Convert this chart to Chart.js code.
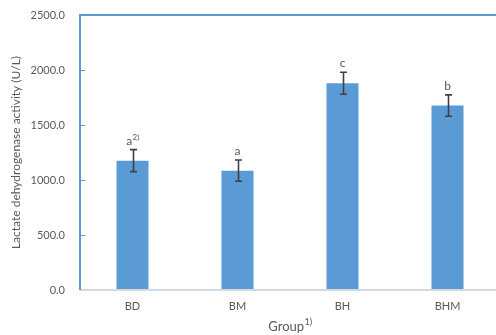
<!DOCTYPE html>
<html>
<head>
<meta charset="utf-8">
<script src="https://cdn.jsdelivr.net/npm/chart.js@4/dist/chart.umd.min.js"></script>
<style>
  html, body { margin: 0; padding: 0; background: #fff; overflow: hidden; }
  canvas { display: block; }
</style>
</head>
<body>
<canvas id="c" width="501" height="335"></canvas>
<script>
// LDH activity by group, mean ± error
const groups = ["BD", "BM", "BH", "BHM"];
const ldhMeans = [1176, 1085, 1880, 1677];
const ldhErrors = [100, 97, 100, 97];
const sigLetters = ["a", "a", "c", "b"];
const letterNotes = ["2)", "", "", ""];
const yTickStep = 500;
const yMax = 2500;

const AXIS_BLUE = "#5B9BD5";
const TEXT_GREY = "#595959";
const FONT = "Lato, 'Open Sans', sans-serif";

const frame = {
  id: "frame",
  afterDatasetsDraw(chart) {
    const { ctx, chartArea: a, scales: { x, y } } = chart;
    ctx.save();
    // error bars
    ctx.strokeStyle = "#404040";
    ctx.lineWidth = 1.6;
    ldhMeans.forEach((m, i) => {
      const cx = Math.round(x.getPixelForValue(i)) + 0.5;
      const yt = y.getPixelForValue(m + ldhErrors[i]);
      const yb = y.getPixelForValue(m - ldhErrors[i]);
      ctx.beginPath();
      ctx.moveTo(cx, yt); ctx.lineTo(cx, yb);
      ctx.moveTo(cx - 3.5, yt); ctx.lineTo(cx + 3.5, yt);
      ctx.moveTo(cx - 3.5, yb); ctx.lineTo(cx + 3.5, yb);
      ctx.stroke();
    });
    // significance letters
    ctx.fillStyle = TEXT_GREY;
    ctx.textBaseline = "alphabetic";
    ldhMeans.forEach((m, i) => {
      const cx = x.getPixelForValue(i);
      const yt = y.getPixelForValue(m + ldhErrors[i]) - 5;
      ctx.font = "12px " + FONT;
      const w = ctx.measureText(sigLetters[i]).width;
      let nw = 0;
      if (letterNotes[i]) {
        ctx.font = "8px " + FONT;
        nw = ctx.measureText(letterNotes[i]).width;
      }
      const x0 = cx - (w + nw) / 2;
      ctx.font = "12px " + FONT;
      ctx.textAlign = "left";
      ctx.fillText(sigLetters[i], x0, yt);
      if (letterNotes[i]) {
        ctx.font = "8px " + FONT;
        ctx.fillText(letterNotes[i], x0 + w + 0.5, yt - 5);
      }
    });
    // bottom axis line
    ctx.strokeStyle = "#D2D9E0";
    ctx.lineWidth = 2;
    ctx.beginPath();
    ctx.moveTo(a.left, a.bottom); ctx.lineTo(a.right, a.bottom);
    ctx.stroke();
    // left axis and top frame line
    ctx.strokeStyle = AXIS_BLUE;
    ctx.fillStyle = AXIS_BLUE;
    ctx.fillRect(a.left - 1, a.top - 1, 2, a.bottom - a.top + 1);
    ctx.fillRect(a.left - 1, a.top - 1, a.right - a.left + 1, 2);
    ctx.lineWidth = 1.2;
    ctx.beginPath();
    for (let v = yTickStep; v < yMax; v += yTickStep) {
      const py = Math.round(y.getPixelForValue(v)) + 0.5;
      ctx.moveTo(a.left, py); ctx.lineTo(a.left + 5, py);
    }
    ctx.stroke();
    // axis titles
    ctx.fillStyle = TEXT_GREY;
    ctx.font = "13px " + FONT;
    ctx.textAlign = "left";
    ctx.textBaseline = "middle";
    const gw = ctx.measureText("Group").width;
    ctx.font = "9px " + FONT;
    const sw = ctx.measureText("1)").width;
    const gx = (a.left + a.right) / 2 - (gw + sw) / 2;
    ctx.font = "13px " + FONT;
    ctx.fillText("Group", gx, 327);
    ctx.font = "9px " + FONT;
    ctx.fillText("1)", gx + gw + 0.5, 322);
    ctx.translate(16, (a.top + a.bottom) / 2);
    ctx.rotate(-Math.PI / 2);
    ctx.font = "12px " + FONT;
    ctx.textAlign = "center";
    ctx.fillText("Lactate dehydrogenase activity (U/L)", 0, 0);
    ctx.restore();
  }
};

new Chart(document.getElementById("c"), {
  type: "bar",
  data: {
    labels: groups,
    datasets: [{
      data: ldhMeans,
      backgroundColor: "#5B9BD5",
      borderWidth: 0,
      categoryPercentage: 1,
      barPercentage: 0.305
    }]
  },
  options: {
    responsive: false,
    animation: false,
    layout: { padding: { top: 15, right: 1, left: 0, bottom: 0 } },
    plugins: { legend: { display: false }, tooltip: { enabled: false } },
    scales: {
      x: {
        grid: { display: false, drawTicks: false },
        border: { display: false },
        ticks: { color: TEXT_GREY, font: { family: FONT, size: 11 }, padding: 10 },
        afterFit(s) {
          s.height = 45;
          s.paddingLeft = 0;
          s.paddingRight = 0;
        }
      },
      y: {
        min: 0,
        max: yMax,
        grid: { display: false, drawTicks: false },
        border: { display: false },
        ticks: {
          stepSize: yTickStep,
          color: TEXT_GREY,
          font: { family: FONT, size: 11 },
          padding: 15,
          callback: v => Number(v).toFixed(1)
        },
        afterFit(s) {
          s.width = 80;
          s.paddingTop = 0;
          s.paddingBottom = 0;
        }
      }
    }
  },
  plugins: [frame]
});
</script>
</body>
</html>
